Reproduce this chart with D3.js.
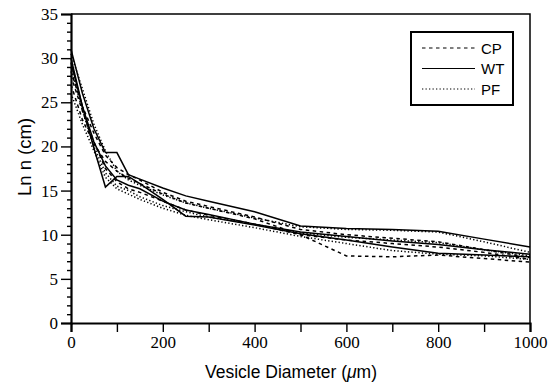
<!DOCTYPE html>
<html lang=en>
<head>
	<meta charset="utf-8">
	<title>vesicle size distribution</title>
	<script src="https://cdn.jsdelivr.net/npm/d3@7"></script>
	<style>
		body { margin: 0; background: #fff; }
		.ttl { font-family: "Liberation Sans", Arial, sans-serif; fill: #000; }
		svg .ax text { font-family: "Liberation Serif", "Times New Roman", serif; font-size: 17px; }
	</style>
</head>
<body>
	<script type="text/javascript">
	// diameters (um)
	var diam = [0, 25, 50, 75, 100, 125, 150, 200, 250, 300, 400, 500, 600, 700, 800, 900, 1000];

	// CP runs (dashed)
	var cp1 = [27.0, 23.0, 20.3, 18.3, 17.2, 16.4, 15.8, 14.6, 13.6, 13.0, 11.8, 10.0, 7.6, 7.5, 7.7, 7.3, 6.9];
	var cp2 = [28.5, 24.5, 21.5, 19.0, 17.6, 16.8, 16.2, 14.8, 13.8, 13.2, 12.0, 10.6, 10.0, 9.6, 9.2, 8.3, 7.4];
	var cp3 = [28.0, 24.0, 20.5, 17.5, 16.0, 15.2, 14.8, 13.8, 12.8, 12.2, 11.2, 10.0, 9.4, 9.0, 8.6, 8.0, 7.2];
	// WT runs (solid)
	var wt1 = [31.0, 26.0, 22.0, 19.3, 19.3, 16.8, 16.3, 15.3, 14.4, 13.8, 12.6, 11.0, 10.7, 10.6, 10.4, 9.5, 8.6];
	var wt2 = [30.0, 24.5, 19.8, 15.4, 16.6, 16.6, 15.8, 14.0, 12.1, 12.0, 11.1, 10.1, 9.4, 8.6, 7.9, 7.7, 7.5];
	var wt3 = [29.5, 24.5, 20.5, 17.8, 16.2, 15.6, 15.2, 13.8, 12.8, 12.3, 11.2, 10.3, 9.8, 9.3, 8.9, 8.3, 7.8];
	// PF runs (dotted)
	var pf1 = [30.5, 26.5, 22.5, 19.5, 17.2, 16.2, 15.6, 14.5, 13.6, 13.0, 11.9, 10.9, 10.6, 10.5, 10.3, 9.2, 8.0];
	var pf2 = [29.0, 24.0, 20.0, 17.0, 15.5, 15.0, 14.3, 13.3, 12.6, 12.0, 11.2, 10.2, 9.7, 9.4, 9.1, 8.3, 7.6];
	var pf3 = [26.0, 22.5, 19.5, 16.5, 15.2, 14.6, 14.0, 13.0, 12.2, 11.7, 10.8, 9.8, 9.0, 8.2, 7.8, 7.6, 7.2];

	var legendNames = ["CP", "WT", "PF"];
	var dashes = ["3.5,3.5", null, "1.3,2.2"];
	var groups = [[cp1, cp2, cp3], [wt1, wt2, wt3], [pf1, pf2, pf3]];

	var W = 558, H = 386;
	var mL = 71, mR = 530, mT = 14, mB = 323;

	var svg = d3.select('body').append('svg')
		.attr('width', W).attr('height', H);

	var x = d3.scaleLinear().domain([0, 1000]).range([mL, mR]);
	var y = d3.scaleLinear().domain([0, 35]).range([mB, mT]);

	var line = d3.line()
		.x(function(d, i){ return x(diam[i]); })
		.y(function(d){ return y(d); });

	groups.forEach(function(g, k){
		g.forEach(function(s){
			svg.append('path')
				.attr('d', line(s))
				.attr('fill', 'none')
				.attr('stroke', '#000')
				.attr('stroke-width', 1.5)
				.attr('stroke-dasharray', dashes[k]);
		});
	});

	// frame top/right
	svg.append('path')
		.attr('d', 'M' + mL + ',' + mT + 'H' + mR + 'V' + mB)
		.attr('fill', 'none').attr('stroke', '#000').attr('stroke-width', 1.5);

	// x axis
	svg.append('g').attr('class', 'ax')
		.attr('transform', 'translate(0,' + mB + ')')
		.call(d3.axisBottom(x).tickValues(d3.range(0, 1001, 200)).tickSize(9).tickPadding(4).tickFormat(d3.format('d')));
	svg.append('g')
		.attr('transform', 'translate(0,' + mB + ')')
		.call(d3.axisBottom(x).tickValues(d3.range(100, 1000, 200)).tickSize(9).tickFormat(''))
		.select('.domain').remove();

	// y axis
	svg.append('g').attr('class', 'ax')
		.attr('transform', 'translate(' + mL + ',0)')
		.call(d3.axisLeft(y).tickValues(d3.range(0, 36, 5)).tickSize(10).tickPadding(3));
	svg.append('g')
		.attr('transform', 'translate(' + mL + ',0)')
		.call(d3.axisLeft(y).tickValues(d3.range(0, 36, 1).filter(function(v){ return v % 5 != 0; })).tickSize(4).tickFormat(''))
		.select('.domain').remove();

	svg.selectAll('.domain').attr('stroke-width', 2.2);
	svg.selectAll('.tick line').attr('stroke-width', 1.4);

	// titles
	svg.append('text').attr('class', 'ttl')
		.attr('x', 291).attr('y', 378)
		.attr('text-anchor', 'middle')
		.style('font-size', '17.5px')
		.html('Vesicle Diameter (<tspan font-style="italic">μ</tspan>m)');

	svg.append('text').attr('class', 'ttl')
		.attr('transform', 'translate(31,157) rotate(-90)')
		.attr('text-anchor', 'middle')
		.style('font-size', '18.5px')
		.text('Ln n (cm)');

	// legend
	var leg = svg.append('g');
	leg.append('rect')
		.attr('x', 411).attr('y', 32).attr('width', 102).attr('height', 73)
		.attr('fill', '#fff').attr('stroke', '#000').attr('stroke-width', 2);
	legendNames.forEach(function(n, i){
		var yy = 48 + i * 20.5;
		leg.append('line')
			.attr('x1', 422).attr('x2', 475).attr('y1', yy).attr('y2', yy)
			.attr('stroke', '#000').attr('stroke-width', 1.2)
			.attr('stroke-dasharray', dashes[i]);
		leg.append('text').attr('class', 'ttl')
			.attr('x', 481).attr('y', yy + 5.5)
			.style('font-size', '15px')
			.text(n);
	});
	</script>
</body>
</html>
